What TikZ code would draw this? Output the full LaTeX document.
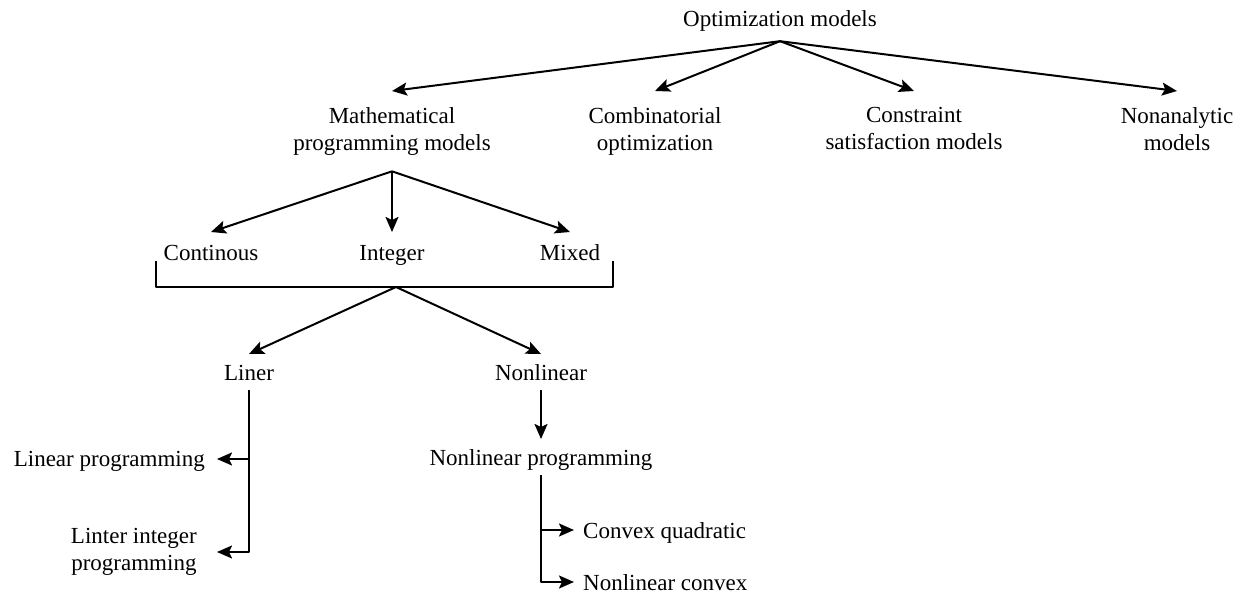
\documentclass[tikz,border=0pt]{standalone}
\usepackage{fontspec}
\setmainfont{Liberation Serif}
\usetikzlibrary{arrows.meta,calc}

\begin{document}
\begin{tikzpicture}[x=1pt, y=-1pt, line join=round,
    every node/.style={font=\fontsize{23}{27}\selectfont},
    lbl/.style={inner xsep=2pt, inner ysep=10pt, text height=16pt, text depth=0pt},
    lbl2/.style={align=center, inner xsep=2pt, inner ysep=16pt},
    arr/.style={-{Stealth[length=15pt,width=13pt,inset=3pt]}, line width=2pt},
    bar/.style={line width=2pt}]
    \useasboundingbox (0,0) rectangle (1243,593);
    % top level
    \node[lbl, inner ysep=14pt, anchor=base] (root) at (780,27) {Optimization models};
    \node[lbl2, anchor=north] (math) at (392,91) {Mathematical\\programming models};
    \node[lbl2, anchor=north] (comb) at (655,91) {Combinatorial\\optimization};
    \node[lbl2, anchor=north] (cons) at (914,91) {Constraint\\satisfaction models};
    \node[lbl2, anchor=north] (nona) at (1177,91) {Nonanalytic\\models};
    \draw[arr] (root.south) -- (math.north);
    \draw[arr] (root.south) -- (comb.north);
    \draw[arr] (root.south) -- (cons.north);
    \draw[arr] (root.south) -- (nona.north);
    % variable types
    \node[lbl, inner ysep=12pt, anchor=north] (cont) at (211,232) {Continous};
    \node[lbl, inner ysep=12pt, anchor=north] (intg) at (392,232) {Integer};
    \node[lbl, inner ysep=12pt, anchor=north] (mixd) at (570,232) {Mixed};
    \draw[arr] (math.south) -- (cont.north);
    \draw[arr] (math.south) -- (intg.north);
    \draw[arr] (math.south) -- (mixd.north);
    \coordinate (bl) at (156,261);
    \coordinate (br) at (613,261);
    \coordinate (bm) at (396,287);
    \draw[bar] (bl) -- (bl |- bm) -- (br |- bm) -- (br);
    % linear / nonlinear
    \node[lbl, anchor=north] (liner) at (249,354) {Liner};
    \node[lbl, anchor=north] (nonlin) at (541,354) {Nonlinear};
    \draw[arr] (bm) -- (liner.north);
    \draw[arr] (bm) -- (nonlin.north);
    \node[lbl, inner xsep=12pt, anchor=east] (lp) at (217,459) {Linear programming};
    \node[lbl2, inner xsep=20pt, inner ysep=2pt, anchor=east] (lip) at (217,552) {Linter integer\\programming};
    \draw[arr] (liner.south) |- (lip.east);
    \draw[arr] (liner.south |- lp.east) -- (lp.east);
    \node[lbl, anchor=north] (nlp) at (541,439) {Nonlinear programming};
    \draw[arr] (nonlin.south) -- (nlp.north);
    \node[lbl, inner xsep=9pt, anchor=west] (cq) at (574,530) {Convex quadratic};
    \node[lbl, inner xsep=9pt, anchor=west] (nc) at (574,582) {Nonlinear convex};
    \draw[arr] (nlp.south) |- (nc.west);
    \draw[arr] (nlp.south |- cq.west) -- (cq.west);
\end{tikzpicture}
\end{document}
